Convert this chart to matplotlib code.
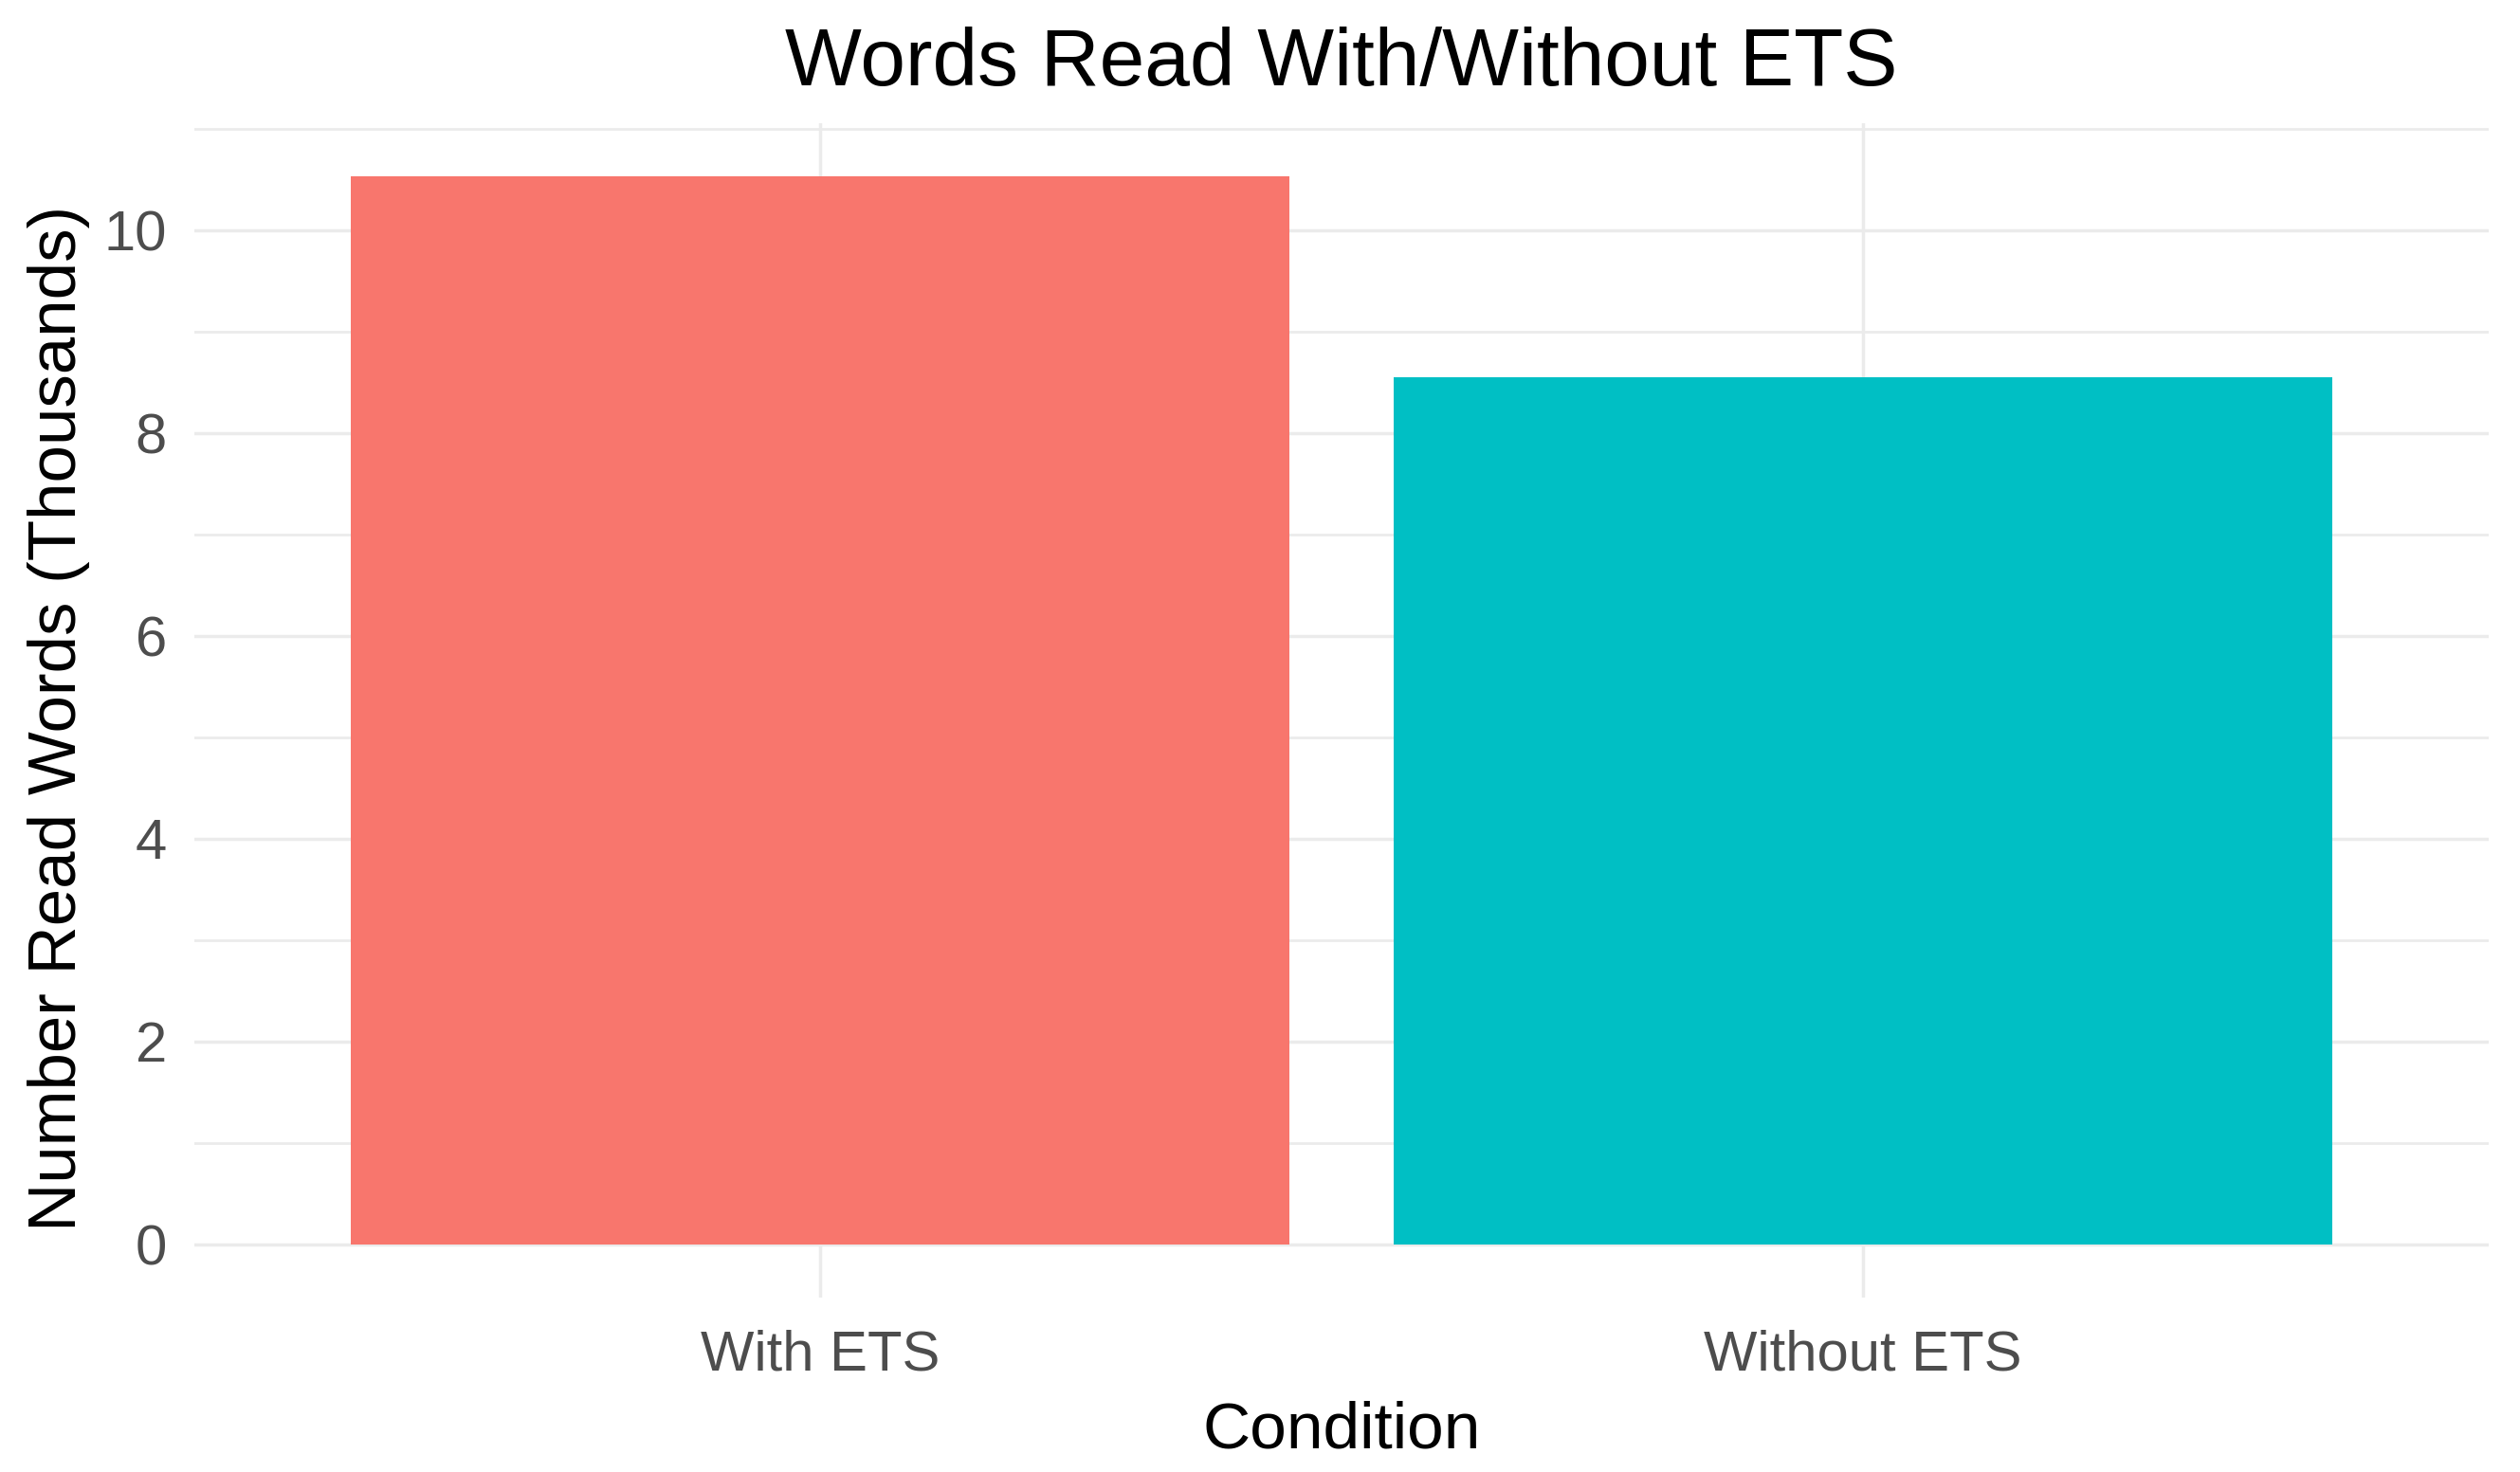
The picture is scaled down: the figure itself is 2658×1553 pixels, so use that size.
import matplotlib
matplotlib.use("Agg")
import matplotlib.pyplot as plt
from matplotlib.ticker import MultipleLocator

categories = ["With ETS", "Without ETS"]
values = [10.53, 8.55]
colors = ["#F8766D", "#00BFC4"]
y_ticks = [0, 2, 4, 6, 8, 10]

plt.rcParams['font.family'] = ['Liberation Sans', 'DejaVu Sans']

W, H = 2658, 1553
fig = plt.figure(figsize=(W / 100, H / 100), dpi=100)
left, right = 205 / W, 2625 / W
bottom, top = 1 - 1369 / H, 1 - 130 / H
ax = fig.add_axes([left, bottom, right - left, top - bottom])

x = list(range(len(categories)))
ax.bar(x, values, width=0.9, color=colors, zorder=2)

ymax = max(values) * 1.05
ax.set_ylim(-max(values) * 0.05, ymax)
ax.set_xlim(-0.6, len(categories) - 1 + 0.6)
ax.set_yticks(y_ticks)
ax.set_yticklabels([str(t) for t in y_ticks])
ax.yaxis.set_minor_locator(MultipleLocator(1))
ax.set_xticks(x)
ax.set_xticklabels(categories)

for s in ax.spines.values():
    s.set_visible(False)
ax.tick_params(axis='both', which='both', length=0)
ax.tick_params(axis='x', pad=24, labelsize=43, labelcolor='#4D4D4D')
ax.tick_params(axis='y', pad=21, labelsize=43, labelcolor='#4D4D4D')

ax.grid(True, which='major', axis='both', color='#EBEBEB', linewidth=2.5, zorder=0)
ax.grid(True, which='minor', axis='y', color='#EBEBEB', linewidth=2.0, zorder=0)
ax.set_axisbelow(True)

cx = (left + right) / 2
fig.text(cx, 1 - 90 / H, "Words Read With/Without ETS", ha='center', va='baseline',
         fontsize=61.7, color='black')
fig.text(cx, 1 - 1527 / H, "Condition", ha='center', va='baseline',
         fontsize=50, color='black')
fig.text(62 / W, 1 - 758 / H, "Number Read Words (Thousands)", ha='center',
         va='center', rotation=90, fontsize=51, color='black')

fig.savefig("out.png", dpi=100, facecolor='white')
